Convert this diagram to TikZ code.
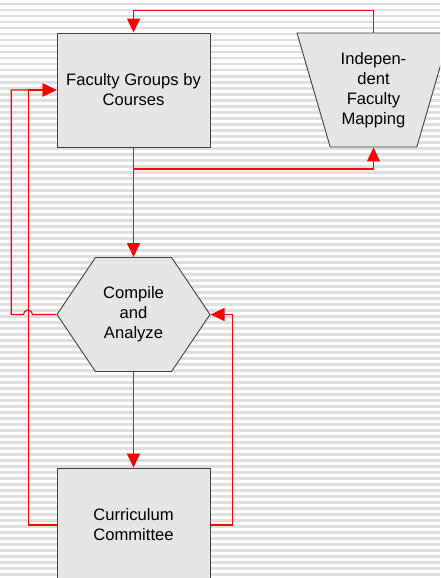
\documentclass[tikz,border=0pt]{standalone}
\usepackage{fontspec}
\setmainfont{Liberation Sans}
\usetikzlibrary{arrows.meta,shapes.geometric,shapes.symbols}

\begin{document}
\begin{tikzpicture}[x=1pt, y=1pt, > = {Triangle[length=14pt, width=13pt]}]
    \tikzset{
      proc/.style={draw=black!75, line width=0.9pt, fill=gray!20, minimum width=153pt, minimum height=114pt,
        align=center, font=\fontsize{16.6}{20}\selectfont, inner sep=0pt},
      manual/.style={proc, trapezium, shape border rotate=180, trapezium left angle=71.6,
        trapezium right angle=71.6, trapezium stretches=true},
      prep/.style={proc, signal, signal to=west and east, signal pointer angle=112},
      flow/.style={draw=red, line width=1.1pt, ->},
      stripe/.style={fill=gray!25},
    }
    \useasboundingbox (0,0) rectangle (440,-578);
    \clip (0,0) rectangle (440,-578);
    \foreach \i in {0,...,96}
      \fill[stripe] (0,-\i*6-3) rectangle (440,-\i*6-5.5);

    \node [proc] (fac) at (133.5,-90) {Faculty Groups by\\Courses};
    \node [manual] (map) [right of=fac, node distance=240pt] {Indepen-\\dent\\Faculty\\Mapping};
    \node [prep] (comp) [below of=fac, node distance=224.5pt] {Compile\\and\\Analyze};
    \node [proc] (cur) [below of=comp, node distance=210.5pt] {Curriculum\\Committee};
    \coordinate (hop) at ([xshift=-24pt]comp.west);
    \coordinate (loopa) at ([xshift=-45.3pt]fac.west);
    \coordinate (loopb) at ([xshift=-28pt]fac.west);

    \draw[flow] (map.north) -- ++(0,22.3) -| (fac.north);
    \draw[flow] (fac.south) -- (comp.north);
    \draw[flow] (fac.south) -- ++(0,-21.5) -| (map.south);
    \draw[flow] (comp.south) -- (cur.north);
    \draw[flow] (comp.west) -- (hop) arc[start angle=0, end angle=180, radius=4.5] -| (loopa) -- (fac.west);
    \draw[flow] (cur.west) -| (loopb) -- (fac.west);
    \draw[flow] (cur.east) -- ++(22,0) |- (comp.east);

  \end{tikzpicture}
\end{document}
